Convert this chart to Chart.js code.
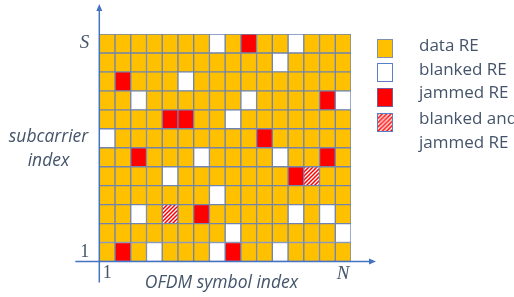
<!DOCTYPE html>
<html><head><meta charset="utf-8">
<script src="https://cdn.jsdelivr.net/npm/chart.js@4"></script>
<style>
html,body{margin:0;padding:0;background:#fff;}
#wrap{position:relative;width:514px;height:297px;overflow:hidden;}
#c{position:absolute;left:0;top:0;}
.t{position:absolute;color:#44546A;font-family:"Open Sans",sans-serif;white-space:nowrap;}
.lg{position:absolute;left:377px;width:16px;height:19px;box-sizing:border-box;border:1.5px solid #5B7FC2;}
.lt{left:419px;font-size:17px;line-height:20px;}
</style></head><body>
<div id="wrap">
<canvas id="c" width="514" height="297"></canvas>
<div class="t" style="left:0;top:123px;width:97px;text-align:center;font-style:italic;font-size:17.5px;line-height:24px;">subcarrier<br>index</div>
<div class="t" style="left:100px;top:271px;width:243px;text-align:center;font-style:italic;font-size:17.5px;line-height:20px;">OFDM symbol index</div>
<div class="lg" id="lg0" style="top:39px;background:#FFC000;border-color:#7F8FAE"></div>
<div class="lg" id="lg1" style="top:63px;background:#FFFFFF;"></div>
<div class="lg" id="lg2" style="top:88px;background:#FF0000;border-color:#7A5B9A"></div>
<canvas class="lg" id="lg3" width="13" height="16" style="top:113px;"></canvas>
<div class="t lt" style="top:35px;">data RE</div>
<div class="t lt" style="top:59px;">blanked RE</div>
<div class="t lt" style="top:82px;">jammed RE</div>
<div class="t lt" style="top:106px;line-height:24px;">blanked and<br>jammed RE</div>
</div>
<script>
// ---- data ----
const numSymbols = 16;
const numSubcarriers = 12;
const symbolLabels = ['1','2','3','4','5','6','7','8','9','10','11','12','13','14','15','16'];
const symbolTickText = ['1','','','','','','','','','','','','','','','N'];
const subcarrierTicks = [1, 12];
const subcarrierTickText = ['1', 'S'];
// [symbol index, subcarrier index]
const blankedRE = [[8,12],[13,12],[12,11],[6,10],[3,9],[10,9],[16,9],[9,8],[1,7],[7,6],[12,6],[5,5],[8,4],[3,3],[13,3],[15,3],[9,2],[16,2],[4,1],[8,1],[12,1]];
const jammedRE = [[10,12],[2,10],[15,9],[5,8],[6,8],[11,7],[3,6],[15,6],[13,5],[7,3],[2,1],[9,1]];
const blankedJammedRE = [[14,5],[5,3]];

// ---- build ----
const key = (s, c) => s + ':' + c;
const special = new Set([...blankedRE, ...jammedRE, ...blankedJammedRE].map(p => key(p[0], p[1])));
const dataRE = [];
for (let c = 1; c <= numSubcarriers; c++) for (let s = 1; s <= numSymbols; s++) if (!special.has(key(s, c))) dataRE.push([s, c]);
const toBars = arr => arr.map(p => ({x: symbolLabels[p[0]-1], y: [p[1]-0.5, p[1]+0.5]}));

function hatch() {
  const p = document.createElement('canvas'); p.width = 4; p.height = 4;
  const g = p.getContext('2d');
  g.fillStyle = '#FFFFFF'; g.fillRect(0,0,4,4);
  g.strokeStyle = '#FF0000'; g.lineWidth = 1.5;
  g.beginPath();
  g.moveTo(-1,5); g.lineTo(5,-1);
  g.moveTo(-1,1); g.lineTo(1,-1);
  g.moveTo(3,5); g.lineTo(5,3);
  g.stroke();
  return p;
}
const hp = hatch();
const patt = document.getElementById('c').getContext('2d').createPattern(hp, 'repeat');
const lg3 = document.getElementById('lg3').getContext('2d');
lg3.fillStyle = lg3.createPattern(hp, 'repeat'); lg3.fillRect(0,0,13,16);

const gridColor = '#6F84B0';
const ds = (label, arr, bg, bc) => ({label, data: toBars(arr), backgroundColor: bg, borderColor: bc || gridColor, borderWidth: 1, borderSkipped: false, barPercentage: 1, categoryPercentage: 1});

const axesPlugin = {
  id: 'axesArrows',
  afterDraw(chart) {
    const {ctx, chartArea: a} = chart;
    ctx.save();
    ctx.strokeStyle = '#4472C4'; ctx.fillStyle = '#4472C4'; ctx.lineWidth = 1.5;
    const x0 = a.left, y0 = a.bottom;
    ctx.beginPath(); ctx.moveTo(x0, y0 + 21); ctx.lineTo(x0, 9); ctx.stroke();
    ctx.beginPath(); ctx.moveTo(x0, 4); ctx.lineTo(x0 - 3, 11); ctx.lineTo(x0 + 3, 11); ctx.closePath(); ctx.fill();
    ctx.beginPath(); ctx.moveTo(x0 - 24, y0); ctx.lineTo(a.right + 19, y0); ctx.stroke();
    ctx.beginPath(); ctx.moveTo(a.right + 25, y0); ctx.lineTo(a.right + 18, y0 - 3); ctx.lineTo(a.right + 18, y0 + 3); ctx.closePath(); ctx.fill();
    ctx.restore();
  }
};

new Chart(document.getElementById('c'), {
  type: 'bar',
  data: {
    labels: symbolLabels,
    datasets: [
      ds('data RE', dataRE, '#FFC000'),
      ds('blanked RE', blankedRE, '#FFFFFF'),
      ds('jammed RE', jammedRE, '#FF0000'),
      ds('blanked and jammed RE', blankedJammedRE, patt)
    ]
  },
  options: {
    responsive: false, animation: false, events: [],
    layout: {padding: {left: 0, right: 163, top: 34, bottom: 0}},
    datasets: {bar: {grouped: false}},
    plugins: {legend: {display: false}, tooltip: {enabled: false}},
    scales: {
      x: {
        type: 'category',
        grid: {display: false, drawTicks: false}, border: {display: false},
        afterFit(s) { s.height = 35.5; },
        ticks: {
          autoSkip: false, maxRotation: 0, padding: 1, color: '#44546A',
          callback: (v, i) => symbolTickText[i],
          font: ctx => ctx.index === numSymbols - 1 ? {family: 'Liberation Serif', style: 'italic', size: 19} : {family: 'Liberation Serif', size: 18}
        }
      },
      y: {
        type: 'linear', min: 0.5, max: 12.5,
        grid: {display: false, drawTicks: false}, border: {display: false},
        afterFit(s) { s.width = 99.3; },
        afterBuildTicks(s) { s.ticks = subcarrierTicks.map(v => ({value: v})); },
        ticks: {
          padding: 10, color: '#44546A',
          callback: (v, i) => subcarrierTickText[i],
          font: ctx => ctx.index === 1 ? {family: 'Liberation Serif', style: 'italic', size: 19} : {family: 'Liberation Serif', size: 18}
        }
      }
    }
  },
  plugins: [axesPlugin]
});
</script>
</body></html>
